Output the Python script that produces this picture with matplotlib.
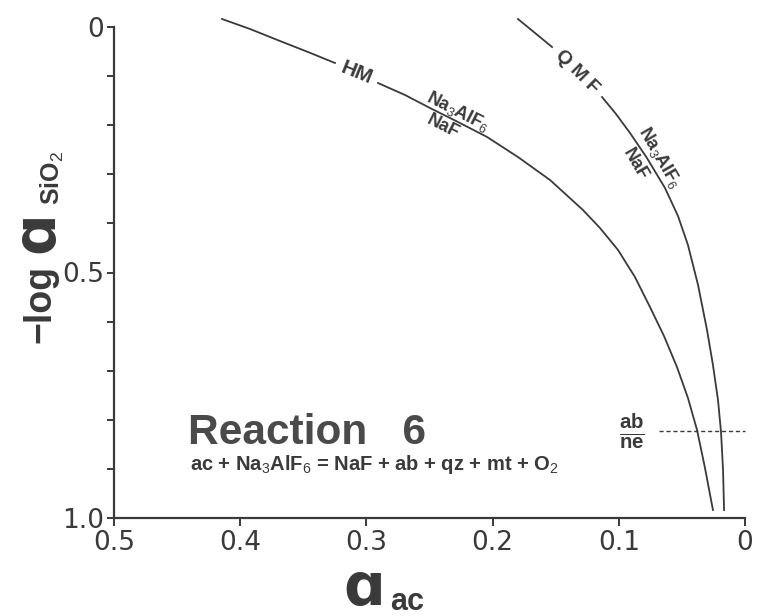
import numpy as np
import matplotlib
matplotlib.use('Agg')
import matplotlib.pyplot as plt

# curve data (a_ac, -log a_SiO2)
# HM buffer curve, split where the "HM" label interrupts it
hm_x_top = [0.4144, 0.3922, 0.3685, 0.3463, 0.3249]
hm_y_top = [-0.0163, 0.0041, 0.0285, 0.0509, 0.0733]
hm_x = [0.2908, 0.2694, 0.2496, 0.2274, 0.2044, 0.1799, 0.1545, 0.1284, 0.1149,
        0.1006, 0.0872, 0.0753, 0.0642, 0.0539, 0.0452, 0.0380, 0.0317, 0.0254]
hm_y = [0.1141, 0.1385, 0.1650, 0.1935, 0.2240, 0.2648, 0.3116, 0.3727, 0.4094,
        0.4542, 0.5092, 0.5703, 0.6293, 0.6925, 0.7556, 0.8208, 0.8982, 0.9837]

# QMF buffer curve, split where the "Q M F" label interrupts it
qmf_x_top = [0.1799, 0.1664, 0.1529]
qmf_y_top = [-0.0163, 0.0122, 0.0407]
qmf_x = [0.1133, 0.1022, 0.0911, 0.0777, 0.0634, 0.0531, 0.0452, 0.0372, 0.0301,
         0.0254, 0.0214, 0.0190, 0.0174, 0.0166]
qmf_y = [0.1426, 0.1772, 0.2159, 0.2668, 0.3279, 0.3849, 0.4440, 0.5255, 0.6171,
         0.6884, 0.7597, 0.8248, 0.9022, 0.9837]

# ab / ne boundary (dashed)
abne_x = [0.068, 0.0]
abne_y = [0.823, 0.823]

x_ticks = [0.5, 0.4, 0.3, 0.2, 0.1, 0.0]
x_ticklabels = ['0.5', '0.4', '0.3', '0.2', '0.1', '0']
y_ticks = [0.0, 0.5, 1.0]
y_ticklabels = ['0', '0.5', '1.0']
y_minor = [0.1, 0.2, 0.3, 0.4, 0.6, 0.7, 0.8, 0.9]

ink = '#3a3a3a'
bold_font = 'Liberation Sans'

plt.rcParams['mathtext.fontset'] = 'custom'
plt.rcParams['mathtext.bf'] = 'Liberation Sans:bold'
plt.rcParams['mathtext.rm'] = 'Liberation Sans'

fig = plt.figure(figsize=(7.61, 6.16), dpi=100)
ax = fig.add_axes([114/761, 1 - 518/616, 631/761, 491/616])

lw = 1.3
ax.plot(hm_x_top, hm_y_top, color=ink, lw=lw, clip_on=False)
ax.plot(hm_x, hm_y, color=ink, lw=lw, clip_on=False)
ax.plot(qmf_x_top, qmf_y_top, color=ink, lw=lw, clip_on=False)
ax.plot(qmf_x, qmf_y, color=ink, lw=lw, clip_on=False)
ax.plot(abne_x, abne_y, color=ink, lw=1.0, ls=(0, (3, 2)), clip_on=False)

ax.set_xlim(0.5, 0.0)
ax.set_ylim(1.0, 0.0)

for s in ['top', 'right']:
    ax.spines[s].set_visible(False)
for s in ['left', 'bottom']:
    ax.spines[s].set_linewidth(1.6)
    ax.spines[s].set_color(ink)

ax.set_xticks(x_ticks)
ax.set_xticklabels(x_ticklabels)
ax.set_yticks(y_ticks)
ax.set_yticklabels(y_ticklabels)
ax.set_yticks(y_minor, minor=True)
ax.tick_params(axis='both', which='both', direction='out', color=ink, width=1.4,
               labelcolor=ink, labelsize=19)
ax.tick_params(axis='x', which='major', length=6, pad=3)
ax.tick_params(axis='y', which='both', length=5, pad=2)

# curve labels
lab = dict(color=ink, fontweight='bold', family=bold_font, ha='center', va='center',
           rotation_mode='anchor')
ax.text(0.3074, 0.0937, 'HM', fontsize=15, rotation=-22, **lab)
ax.text(0.2274, 0.173, r'Na$_3$AlF$_6$', fontsize=13, rotation=-27, **lab)
ax.text(0.2393, 0.204, 'NaF', fontsize=13, rotation=-27, **lab)
ax.text(0.1331, 0.0916, 'Q M F', fontsize=14, rotation=-45, **lab)
ax.text(0.0674, 0.267, r'Na$_3$AlF$_6$', fontsize=13, rotation=-60, **lab)
ax.text(0.0872, 0.281, 'NaF', fontsize=13, rotation=-60, **lab)
ax.text(0.0895, 0.823, r'$\mathbf{\frac{ab}{ne}}$', fontsize=21, color=ink,
        ha='center', va='center')

# reaction title and equation
ax.text(0.4414, 0.850, 'Reaction   6', fontsize=30.5, fontweight='bold',
        family=bold_font, color='#4a4a4a', ha='left', va='baseline')
ax.text(0.4398, 0.903, r'ac + Na$_3$AlF$_6$ = NaF + ab + qz + mt + O$_2$',
        fontsize=14.5, fontweight='bold', family=bold_font, color=ink,
        ha='left', va='baseline')

# axis labels
fig.text(40/761, 1 - 304/616, '\u2212log', fontsize=27, fontweight='bold',
         family=bold_font, color=ink, rotation=90, ha='center', va='center')
fig.text(37/761, 1 - 232/616, '\u0251', fontsize=42, fontweight='bold',
         family='DejaVu Sans', color=ink, rotation=90, ha='center', va='center')
fig.text(52/761, 1 - 178/616, r'SiO$_2$', fontsize=18, fontweight='bold',
         family=bold_font, color=ink, rotation=90, ha='center', va='center')

fig.text(364/761, 1 - 605/616, '\u0251', fontsize=42, fontweight='bold',
         family='DejaVu Sans', color=ink, ha='center', va='baseline')
fig.text(407/761, 1 - 610/616, 'ac', fontsize=22, fontweight='bold',
         family=bold_font, color=ink, ha='center', va='baseline')

fig.savefig('out.png', dpi=100, facecolor='white')
